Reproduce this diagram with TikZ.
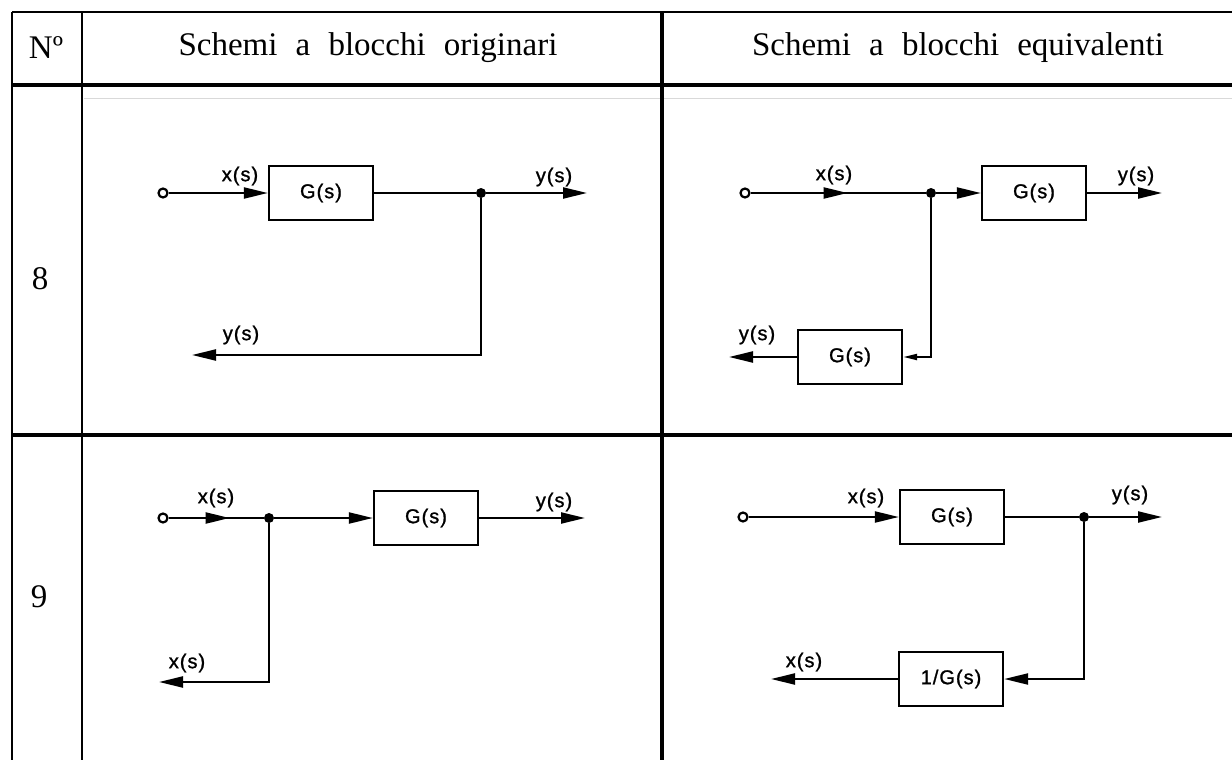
\documentclass[tikz,border=0pt]{standalone}
\usepackage{fontspec}
\setmainfont{Liberation Serif}
\newfontfamily\lab[LetterSpace=5,FakeBold=1.2]{Liberation Sans}
\usetikzlibrary{arrows.meta,decorations.markings}
\newcommand\ws{\hspace{0.55em}}
\begin{document}
\begin{tikzpicture}[x=1pt,y=-1pt,
  tbl/.style={line width=2.8pt},
  conn/.style={line width=2.2pt},
  blk/.style={draw,line width=2.3pt,minimum width=104pt,minimum height=54pt,inner sep=0pt,font=\lab\fontsize{20}{20}\selectfont},
  lbl/.style={font=\lab\fontsize{20}{20}\selectfont,inner sep=0pt},
  hdr/.style={font=\fontsize{33}{33}\selectfont,inner sep=0pt},
  tipa/.style={-{Triangle[length=24pt,width=11pt]}},
  tipsmall/.style={-{Triangle[length=14pt,width=6pt]}},
  junc/.style={circle,fill,inner sep=0pt,minimum size=10pt},
  port/.style={circle,draw,line width=2.2pt,fill=white,inner sep=0pt,minimum size=9pt},
  midtip/.style={postaction={decorate},decoration={markings,mark=at position #1 with {\arrow{Triangle[length=24pt,width=11pt]}}}},
]
\useasboundingbox (0,0) rectangle (1232,760);
\fill[white] (0,0) rectangle (1232,760);
% table
\draw[tbl] (12,12) -- (1232,12);
\draw[line width=3.2pt] (12,85) -- (1232,85);
\draw[black!15,line width=0.8pt] (84,98) -- (1232,98);
\draw[line width=4.2pt] (12,435) -- (1232,435);
\draw[tbl] (12,12) -- (12,760);
\draw[tbl] (82,12) -- (82,760);
\draw[line width=3.2pt] (662,12) -- (662,760);
\node[hdr] (hn) at (46,48) {Nº};
\node[hdr] (h1) at (368,48) {Schemi\ws a\ws blocchi\ws originari};
\node[hdr] (h2) at (958,48) {Schemi\ws a\ws blocchi\ws equivalenti};
\node[hdr] (r8) at (40,279) {8};
\node[hdr] (r9) at (39,597) {9};

% ---- row 8 left
\node[port] (p1) at (163,193) {};
\node[blk] (b1) at (321,193) {G(s)};
\node[junc] (j1) at (481,193) {};
\coordinate (o1) at (587,193);
\coordinate (f1) at (192,355);
\draw[conn,tipa] (p1) -- (b1);
\draw[conn] (b1) -- (j1);
\draw[conn,tipa] (j1) -- (o1);
\draw[conn,tipa] (j1) |- (f1);
\node[lbl] (l1) at (240,176) {x(s)};
\node[lbl] (l2) at (554,177) {y(s)};
\node[lbl] (l3) at (241,335) {y(s)};

% ---- row 8 right
\node[port] (p2) at (745,193) {};
\node[junc] (j2) at (931,193) {};
\node[blk] (b2) at (1034,193) {G(s)};
\node[blk] (b3) at (850,357) {G(s)};
\coordinate (o2) at (1162,193);
\coordinate (f2) at (729,357);
\draw[conn,midtip=97pt] (p2) -- (j2);
\draw[conn,tipa] (j2) -- (b2);
\draw[conn,tipa] (b2) -- (o2);
\draw[conn,tipsmall] (j2) |- (b3);
\draw[conn,tipa] (b3) -- (f2);
\node[lbl] (l4) at (834,175) {x(s)};
\node[lbl] (l5) at (1136,176) {y(s)};
\node[lbl] (l6) at (757,335) {y(s)};

% ---- row 9 left
\node[port] (p3) at (163,518) {};
\node[junc] (j3) at (269,518) {};
\node[blk] (b4) at (426,518) {G(s)};
\coordinate (o3) at (585,518);
\coordinate (f3) at (159,682);
\draw[conn,midtip=61pt] (p3) -- (j3);
\draw[conn,tipa] (j3) -- (b4);
\draw[conn,tipa] (b4) -- (o3);
\draw[conn,tipa] (j3) |- (f3);
\node[lbl] (l7) at (216,498) {x(s)};
\node[lbl] (l8) at (554,502) {y(s)};
\node[lbl] (l9) at (187,663) {x(s)};

% ---- row 9 right
\node[port] (p4) at (743,517) {};
\node[blk] (b5) at (952,517) {G(s)};
\node[junc] (j4) at (1084,517) {};
\node[blk] (b6) at (951,679) {1/G(s)};
\coordinate (o4) at (1162,517);
\coordinate (f4) at (771,679);
\draw[conn,tipa] (p4) -- (b5);
\draw[conn] (b5) -- (j4);
\draw[conn,tipa] (j4) -- (o4);
\draw[conn,tipa] (j4) |- (b6);
\draw[conn,tipa] (b6) -- (f4);
\node[lbl] (l10) at (866,498) {x(s)};
\node[lbl] (l11) at (1130,495) {y(s)};
\node[lbl] (l12) at (804,662) {x(s)};
\end{tikzpicture}
\end{document}
